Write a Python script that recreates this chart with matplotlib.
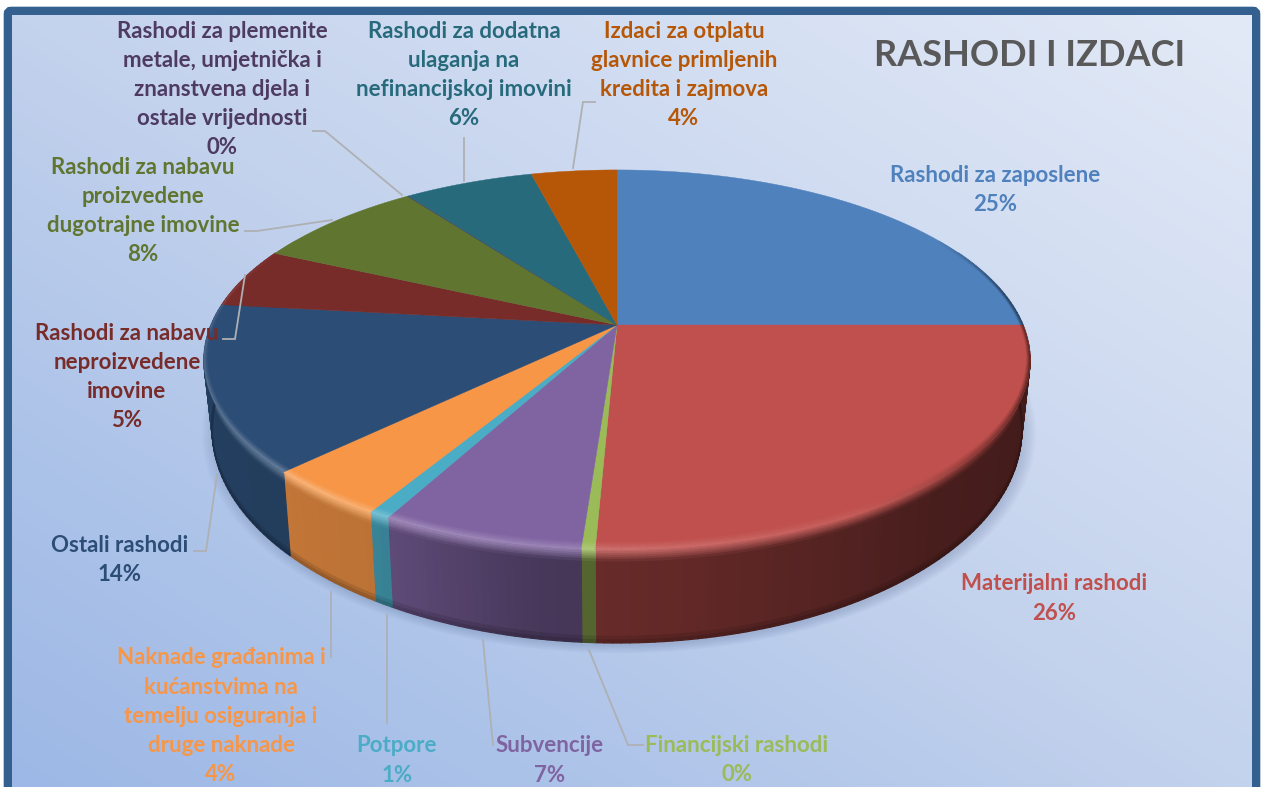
import numpy as np
import matplotlib
matplotlib.use("Agg")
import matplotlib.pyplot as plt
from matplotlib.collections import PolyCollection
from matplotlib.colors import to_rgb
from matplotlib.patches import FancyBboxPatch

plt.rcParams['font.family'] = ['Lato', 'DejaVu Sans']

# clockwise from 12 o'clock (%)
categories = ["Rashodi za zaposlene", "Materijalni rashodi", "Financijski rashodi", "Subvencije", "Potpore",
              "Naknade građanima i kućanstvima na temelju osiguranja i druge naknade", "Ostali rashodi",
              "Rashodi za nabavu neproizvedene imovine", "Rashodi za nabavu proizvedene dugotrajne imovine",
              "Rashodi za plemenite metale, umjetnička i znanstvena djela i ostale vrijednosti",
              "Rashodi za dodatna ulaganja na nefinancijskoj imovini",
              "Izdaci za otplatu glavnice primljenih kredita i zajmova"]
values = [25.0, 25.7, 0.45, 6.7, 0.7, 4.15, 14.1, 5.1, 8.0, 0.05, 6.05, 4.0]
percent_labels = ["25%", "26%", "0%", "7%", "1%", "4%", "14%", "5%", "8%", "0%", "6%", "4%"]
colors = ["#4f81bd", "#c0504d", "#9bbb59", "#8064a2", "#4bacc6", "#f79646",
          "#2c4d75", "#772c2a", "#5f7530", "#4d3b62", "#276a7c", "#b65708"]

# wrapped label lines, centre x, y of first line
label_lines = [["Rashodi za zaposlene"], ["Materijalni rashodi"], ["Financijski rashodi"], ["Subvencije"], ["Potpore"],
               ["Naknade građanima i", "kućanstvima na", "temelju osiguranja i", "druge naknade"], ["Ostali rashodi"],
               ["Rashodi za nabavu", "neproizvedene", "imovine"], ["Rashodi za nabavu", "proizvedene", "dugotrajne imovine"],
               ["Rashodi za plemenite", "metale, umjetnička i", "znanstvena djela i", "ostale vrijednosti"],
               ["Rashodi za dodatna", "ulaganja na", "nefinancijskoj imovini"],
               ["Izdaci za otplatu", "glavnice primljenih", "kredita i zajmova"]]
label_x = [995, 1054, 737, 550, 397, 221, 120, 127, 143, 222, 464, 684]
label_y = [175, 584, 745, 746, 746, 658, 545, 333, 167, 31, 31, 31]

leaders = [None, None,
           [(643, 745), (628, 745), (589, 650)],
           [(493, 745), (483, 640)],
           [(387, 723), (387, 615)],
           [(331, 657), (331, 592)],
           [(194, 551), (206, 551), (217, 475)],
           [(223, 339), (235, 339), (245, 275)],
           [(245, 231), (257, 231), (332, 220)],
           [(313, 131), (325, 131), (402, 195)],
           [(464, 138), (464, 181)],
           [(595, 102), (583, 102), (573, 168)]]

W, H = 1261, 787
cx, cy = 617, 325
R, S, K = 406, 183.6, 0.184   # perspective of the top disc
DROP, SHRINK, STRETCH = 66, 0.98, 1.12   # bottom disc


def rim(theta, r=1.0, t=0.0):
    # theta in degrees clockwise from top, t=0 top disc, t=1 bottom disc
    th = np.radians(theta)
    u = r * np.sin(th)
    v = -r * np.cos(th)
    w = 1 - K * v
    dx = R * u / w
    dy = S * v / w
    return cx + (1 + (SHRINK - 1) * t) * dx, cy + (1 + (STRETCH - 1) * t) * dy + DROP * t


def mix(a, b, f):
    a, b = np.array(a), np.array(b)
    return tuple(a + (b - a) * f)


def edge_colour(col, mid, amt=1.0):
    # what the bevel does to a slice colour at this point of the rim
    dark = np.interp(mid, [60, 80, 110, 150], [0, 0.5, 0.5, 0]) * amt
    lit = np.interp(mid, [130, 185, 225, 280, 300], [0, 0.2, 0.28, 0.1, 0]) * amt
    return mix(mix(to_rgb(col), (0, 0, 0), dark), (1, 1, 1), lit)


fig = plt.figure(figsize=(W / 100, H / 100), dpi=100, facecolor='white')
ax = fig.add_axes([0, 0, 1, 1])
ax.set_xlim(0, W)
ax.set_ylim(H, 0)
ax.axis('off')

# frame and background
ax.add_patch(FancyBboxPatch((8, 11), 1248, 800, boxstyle="round,pad=0,rounding_size=3",
                            fc='white', ec='#34608f', lw=6.2, zorder=1))
yy, xx = np.mgrid[0:1:200j, 0:1:300j]
g = xx * 0.5 + (1 - yy) * 0.5
stops = [0, 0.25, 0.5, 1]
bg = np.dstack([np.interp(g, stops, [to_rgb(c)[i] for c in ("#9db8e6", "#aec4e9", "#c3d2ed", "#e3eaf7")])
                for i in range(3)])
ax.imshow(bg, extent=(12, 1252, 787, 15), aspect='auto', zorder=2, interpolation='bilinear')
ax.set_xlim(0, W)
ax.set_ylim(H, 0)

# soft shadow under the pie
ring = np.linspace(0, 360, 240)
for grow in np.linspace(1.03, 1.0, 8):
    sx, sy = rim(ring, 1.0, 1.0)
    ax.fill(cx + (sx - cx) * grow + 2, cy + 80 + (sy - cy - 80) * grow + 3, color='#5a6f96', alpha=0.035,
            lw=0, zorder=3)

edges = 360 * np.cumsum([0] + values) / np.sum(values)

# side wall, strip by strip so that it can be shaded along the rim
light_th = [70, 100, 140, 170, 190, 210, 235, 280, 300]
light_fa = [0.32, 0.33, 0.38, 0.50, 0.56, 0.76, 0.80, 0.80, 0.80]
polys, fills = [], []
rows = [0, 0.02, 0.04, 0.06, 0.08, 0.10, 0.13, 0.93, 0.97, 1.0]
for col, a, b in zip(colors, edges[:-1], edges[1:]):
    a2, b2 = max(a, 65), min(b, 295)
    if b2 <= a2:
        continue
    n = max(2, int((b2 - a2) / 1.0) + 1)
    th = np.linspace(a2, b2, n)
    for t0, t1 in zip(rows[:-1], rows[1:]):
        x00, y00 = rim(th[:-1], 1, t0)
        x01, y01 = rim(th[1:], 1, t0)
        x11, y11 = rim(th[1:], 1, t1)
        x10, y10 = rim(th[:-1], 1, t1)
        for i in range(n - 1):
            polys.append([(x00[i], y00[i]), (x01[i], y01[i]), (x11[i], y11[i]), (x10[i], y10[i])])
            tm = (t0 + t1) / 2
            mid = (th[i] + th[i + 1]) / 2
            wall = mix((0, 0, 0), to_rgb(col), np.interp(mid, light_th, light_fa))
            if tm < 0.13:
                fills.append(mix(edge_colour(col, mid), wall, tm / 0.13))
            elif tm > 0.93:
                fills.append(mix(wall, (0, 0, 0), 0.05 + (tm - 0.93) * 3))
            else:
                fills.append(wall)
ax.add_collection(PolyCollection(polys, facecolors=fills, edgecolors=fills, linewidths=0.9, zorder=4))

# top faces
for col, a, b in zip(colors, edges[:-1], edges[1:]):
    th = np.linspace(a, b, max(2, int(b - a) * 2 + 2))
    x, y = rim(th)
    ax.fill(np.r_[cx, x], np.r_[cy, y], color=col, lw=0.3, zorder=5)

# lit or shaded band just inside the rim of the top
polys, fills = [], []
bands = [(1.0, 0.75, 0.2), (0.75, 0.5, 0.45), (0.5, 0.25, 0.7), (0.25, 0.0, 1.0)]
for col, a, b in zip(colors, edges[:-1], edges[1:]):
    a2, b2 = max(a, 60), min(b, 300)
    if b2 <= a2:
        continue
    n = max(2, int(b2 - a2) + 1)
    th = np.linspace(a2, b2, n)
    width = 0.008 + 0.02 * np.cos(np.radians(th)) ** 2
    for f0, f1, amt in bands:
        x0, y0 = rim(th, 1 - width * f0)
        x1, y1 = rim(th, 1 - width * f1)
        for i in range(n - 1):
            mid = (th[i] + th[i + 1]) / 2
            polys.append([(x0[i], y0[i]), (x0[i + 1], y0[i + 1]), (x1[i + 1], y1[i + 1]), (x1[i], y1[i])])
            fills.append(edge_colour(col, mid, amt))
ax.add_collection(PolyCollection(polys, facecolors=fills, edgecolors=fills, linewidths=0.2, zorder=6))

# leader lines
for pts in leaders:
    if pts is None:
        continue
    ax.plot([p[0] for p in pts], [p[1] for p in pts], color='#aeb0b4', lw=1.3, zorder=7, solid_joinstyle='miter')

# labels
PITCH = 29.2
for lines, pct, col, x, y in zip(label_lines, percent_labels, colors, label_x, label_y):
    for i, line in enumerate(lines + [pct]):
        ax.text(x, y + i * PITCH, line, color=col, fontsize=16, fontweight='bold', ha='center', va='center',
                zorder=8)

ax.text(1030, 56, "RASHODI I IZDACI", color='#595959', fontsize=26, fontweight='bold', ha='center', va='center',
        zorder=8)

fig.savefig("out.png", dpi=100)
